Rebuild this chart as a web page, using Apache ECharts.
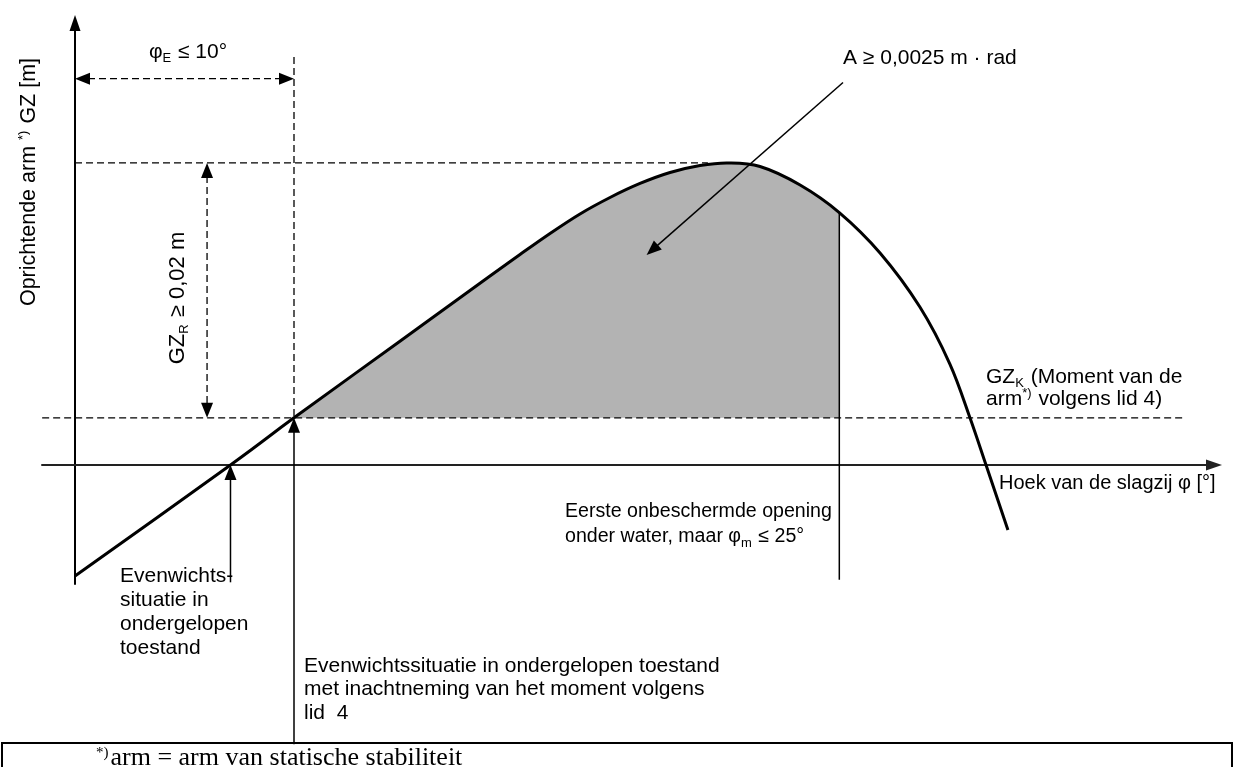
<!DOCTYPE html>
<html><head><meta charset="utf-8">
<script src="https://cdn.jsdelivr.net/npm/echarts@6.0.0/dist/echarts.min.js"></script>
<style>html,body{margin:0;padding:0;background:#fff}#c{width:1234px;height:767px}</style>
</head><body><div id="c"></div>
<script>
// ---------- data (heel angle φ in degrees, righting arm GZ in metres; schematic) ----------
const curveAngle = [0, 7.1, 10, 14.79, 18.95, 20.32, 21.69, 23.06, 24.43, 25.8, 27.17, 28.54, 29.82, 31.28, 33.11, 34.9, 36.76, 38.58, 39.95, 40.87, 41.6, 42.6];
const curveGZ    = [-0.00871, 0, 0.0037, 0.00965, 0.01482, 0.01651, 0.01816, 0.01969, 0.02098, 0.02208, 0.02294, 0.02349, 0.02369, 0.02341, 0.02196, 0.0198, 0.01663, 0.01239, 0.00792, 0.00369, 0, -0.0051];
const phiEq = 7.1;     // equilibrium angle (flooded)
const phiE  = 10;      // equilibrium angle incl. moment (φE ≤ 10°)
const phiM  = 34.9;    // first unprotected opening (φm)
const gzK   = 0.0037;  // GZ_K moment arm level
const gzMax = Math.max(...curveGZ);
const gzAtM = curveGZ[curveAngle.indexOf(phiM)];

// guide lines [x1, y1, x2, y2] in data units, and their kinds
const guideSegments = [
  [-1.5, gzK, 50.7, gzK],
  [0, gzMax, 28.9, gzMax],
  [phiE, 0.032, phiE, gzK],
  [0, 0.0303, phiE, 0.0303],
  [6.03, gzMax, 6.03, gzK],
  [phiE, -0.0219, phiE, gzK],
  [phiEq, -0.0092, phiEq, 0],
  [phiM, gzAtM, phiM, -0.0090],
  [35.07, 0.0300, 26.1, 0.01647]
];
const guideKinds = ['dash', 'dash', 'dash', 'dashArrow2', 'dashArrow2', 'solidArrow', 'solidArrow', 'solid', 'solidArrow'];

// ---------- layout ----------
const PXD = 21.9, X0 = 75, PXM = 12750, Y0 = 465;
const G = {left: 42, right: 20, top: 23, bottom: 183};
const W = 1234, H = 767;
const xMin = (G.left - X0) / PXD, xMax = (W - G.right - X0) / PXD;
const yMax = (Y0 - G.top) / PXM, yMin = (Y0 - (H - G.bottom)) / PXM;

const SANS = '"Liberation Sans", Arial, sans-serif';
const SERIF = '"Liberation Serif", "Times New Roman", serif';
const FS = 21;

const kindStyle = {
  dash: {lineWidth: 1.3, lineDash: [7, 4], a1: false, a2: false},
  dashArrow2: {lineWidth: 1.3, lineDash: [7, 4], a1: true, a2: true},
  solidArrow: {lineWidth: 1.5, lineDash: null, a1: false, a2: true},
  solid: {lineWidth: 1.5, lineDash: null, a1: false, a2: false}
};

function head(tip, from, len, w) {
  const dx = tip[0] - from[0], dy = tip[1] - from[1];
  const L = Math.hypot(dx, dy) || 1, ux = dx / L, uy = dy / L;
  const bx = tip[0] - ux * len, by = tip[1] - uy * len;
  return {type: 'polygon', shape: {points: [tip, [bx - uy * w / 2, by + ux * w / 2], [bx + uy * w / 2, by - ux * w / 2]]}, style: {fill: '#000'}};
}

function renderGuide(params, api) {
  const p1 = api.coord([api.value(0), api.value(1)]);
  const p2 = api.coord([api.value(2), api.value(3)]);
  const st = kindStyle[guideKinds[params.dataIndex]];
  const AL = 15, AW = 12;
  const dx = p2[0] - p1[0], dy = p2[1] - p1[1];
  const L = Math.hypot(dx, dy), ux = dx / L, uy = dy / L;
  const s = st.a1 ? [p1[0] + ux * (AL - 2), p1[1] + uy * (AL - 2)] : p1;
  const e = st.a2 ? [p2[0] - ux * (AL - 2), p2[1] - uy * (AL - 2)] : p2;
  const children = [{
    type: 'line', shape: {x1: s[0], y1: s[1], x2: e[0], y2: e[1]},
    style: {stroke: '#000', lineWidth: st.lineWidth, lineDash: st.lineDash}
  }];
  if (st.a1) children.push(head(p1, p2, AL, AW));
  if (st.a2) children.push(head(p2, p1, AL, AW));
  return {type: 'group', children};
}

// Catmull-Rom spline through the curve's data points (pixel space via the axes)
function curveSegments(api) {
  const P = curveAngle.map((a, i) => api.coord([a, curveGZ[i]]));
  const segs = [];
  const t = 1 / 6;
  for (let i = 0; i < P.length - 1; i++) {
    const p0 = P[i - 1] || P[i], p1 = P[i], p2 = P[i + 1], p3 = P[i + 2] || P[i + 1];
    segs.push({
      from: p1, to: p2,
      c1: [p1[0] + (p2[0] - p0[0]) * t, p1[1] + (p2[1] - p0[1]) * t],
      c2: [p2[0] - (p3[0] - p1[0]) * t, p2[1] - (p3[1] - p1[1]) * t]
    });
  }
  return segs;
}
const f = v => v.toFixed(2);
function segPath(segs) {
  return segs.map(s => 'C' + f(s.c1[0]) + ' ' + f(s.c1[1]) + ' ' + f(s.c2[0]) + ' ' + f(s.c2[1]) + ' ' + f(s.to[0]) + ' ' + f(s.to[1])).join(' ');
}

function renderCurve(params, api) {
  const segs = curveSegments(api);
  const d = 'M' + f(segs[0].from[0]) + ' ' + f(segs[0].from[1]) + ' ' + segPath(segs);
  return {type: 'path', shape: {pathData: d}, style: {fill: 'none', stroke: '#000', lineWidth: 3, lineJoin: 'round'}};
}

function renderFill(params, api) {
  const segs = curveSegments(api);
  const iE = curveAngle.indexOf(phiE), iM = curveAngle.indexOf(phiM);
  const part = segs.slice(iE, iM);
  const bR = api.coord([phiM, gzK]), bL = api.coord([phiE, gzK]);
  const d = 'M' + f(part[0].from[0]) + ' ' + f(part[0].from[1]) + ' ' + segPath(part) +
    ' L' + f(bR[0]) + ' ' + f(bR[1]) + ' L' + f(bL[0]) + ' ' + f(bL[1]) + ' Z';
  return {type: 'path', shape: {pathData: d}, style: {fill: '#b3b3b3', stroke: null}};
}

const rich = {
  sub: {fontSize: 13, fontFamily: SANS, verticalAlign: 'bottom', padding: [0, 1, 0, 0]},
  sup: {fontSize: 13, fontFamily: SANS, verticalAlign: 'top', padding: [0, 1, 0, 0]},
  fsup: {fontSize: 15, fontFamily: SERIF, verticalAlign: 'top', padding: [0, 2, 0, 0]}
};
function txt(x, y, text, o) {
  o = o || {};
  return {
    type: 'text', x, y, rotation: o.rot || 0, silent: true,
    style: {
      text, fill: '#000', fontSize: o.fs || FS, fontFamily: o.ff || SANS,
      textAlign: o.align || 'left', textVerticalAlign: 'middle', lineHeight: o.lh || 25, rich
    }
  };
}

const graphics = [
  txt(29, 182, 'Oprichtende arm {sup|*)} GZ [m]', {rot: Math.PI / 2, align: 'center', fs: 21.5}),
  txt(188, 52, 'φ{sub|E} ≤ 10°', {align: 'center'}),
  txt(178, 298, 'GZ{sub|R} ≥ 0,02 m', {rot: Math.PI / 2, align: 'center', fs: 22}),
  txt(843, 58, 'A ≥ 0,0025 m · rad'),
  txt(986, 377, 'GZ{sub|K} (Moment van de'),
  txt(986, 399, 'arm{sup|*)} volgens lid 4)'),
  txt(999, 483, 'Hoek van de slagzij φ [°]', {fs: 20}),
  txt(565, 512, 'Eerste onbeschermde opening', {fs: 19.6}),
  txt(565, 537, 'onder water, maar φ{sub|m} ≤ 25°', {fs: 19.6}),
  txt(120, 576, 'Evenwichts-'),
  txt(120, 600, 'situatie in'),
  txt(120, 624, 'ondergelopen'),
  txt(120, 648, 'toestand'),
  txt(304, 666, 'Evenwichtssituatie in ondergelopen toestand'),
  txt(304, 689, 'met inachtneming van het moment volgens'),
  txt(304, 713, 'lid  4'),
  {type: 'rect', shape: {x: 2, y: 743, width: 1230, height: 40}, silent: true, style: {fill: 'none', stroke: '#000', lineWidth: 2}},
  txt(96, 758, '{fsup|*)}arm = arm van statische stabiliteit', {ff: SERIF, fs: 26})
];

const chart = echarts.init(document.getElementById('c'), null, {renderer: 'canvas'});
chart.setOption({
  backgroundColor: '#fff',
  animation: false,
  grid: {left: G.left, right: G.right, top: G.top, bottom: G.bottom, containLabel: false},
  xAxis: {
    type: 'value', min: xMin, max: xMax,
    axisLine: {onZero: true, symbol: ['none', 'triangle'], symbolSize: [11, 16], lineStyle: {color: '#222', width: 2}},
    axisTick: {show: false}, axisLabel: {show: false}, splitLine: {show: false}
  },
  yAxis: {
    type: 'value', min: yMin, max: yMax,
    axisLine: {onZero: true, symbol: ['none', 'triangle'], symbolSize: [11, 16], lineStyle: {color: '#000', width: 2}},
    axisTick: {show: false}, axisLabel: {show: false}, splitLine: {show: false}
  },
  series: [
    {type: 'custom', name: 'area', silent: true, clip: false, data: [[phiE, gzK]], renderItem: renderFill, z: 1},
    {type: 'custom', name: 'guides', silent: true, clip: false, data: guideSegments, renderItem: renderGuide, z: 3},
    {type: 'custom', name: 'GZ', silent: true, clip: false, data: [[curveAngle[0], curveGZ[0]]], renderItem: renderCurve, z: 5}
  ],
  graphic: graphics
});
</script>
</body></html>
